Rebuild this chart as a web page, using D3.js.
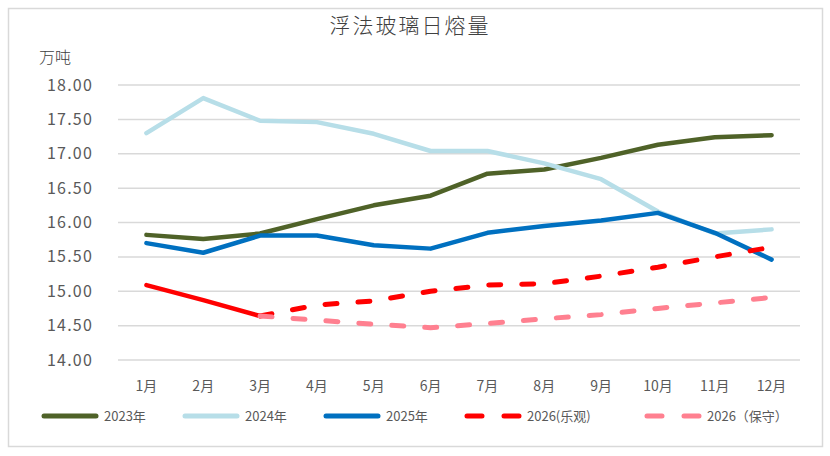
<!DOCTYPE html>
<html>
<head>
<meta charset="utf-8">
<script src="https://cdn.jsdelivr.net/npm/d3@7"></script>
<style>
  body { margin: 0; background: #fff; }
  text { font-family: "Noto Sans CJK SC", "Noto Sans", sans-serif; }
</style>
</head>
<body>
<svg id="chart"></svg>
<script>
// data
const months = ['1月','2月','3月','4月','5月','6月','7月','8月','9月','10月','11月','12月']
const y2023 = [15.82, 15.76, 15.84, 16.05, 16.25, 16.39, 16.71, 16.77, 16.94, 17.13, 17.24, 17.27]
const y2024 = [17.30, 17.81, 17.48, 17.46, 17.29, 17.04, 17.04, 16.86, 16.63, 16.16, 15.84, 15.90]
const y2025 = [15.70, 15.56, 15.81, 15.81, 15.67, 15.62, 15.85, 15.95, 16.03, 16.14, 15.85, 15.46]
const opt2026 = [15.09, 14.87, 14.64, 14.80, 14.86, 15.00, 15.09, 15.11, 15.22, 15.35, 15.50, 15.64]
const cons2026 = [null, null, 14.64, 14.58, 14.52, 14.47, 14.53, 14.60, 14.66, 14.75, 14.83, 14.91]
const yTicks = [14, 14.5, 15, 15.5, 16, 16.5, 17, 17.5, 18]
const legendNames = ['2023年', '2024年', '2025年', '2026(乐观)', '2026（保守）']

const W = 830, H = 456
const margin = {top: 85, right: 30, bottom: 96, left: 118}
const width = W - margin.left - margin.right
const height = H - margin.top - margin.bottom

const svg = d3.select('#chart').attr('width', W).attr('height', H)

// outer frame
svg.append('rect')
  .attr('x', 8.5).attr('y', 8.5).attr('width', 814).attr('height', 438)
  .attr('fill', '#fff').attr('stroke', '#d9d9d9').attr('stroke-width', 1.5)

svg.append('text')
  .attr('x', 410).attr('y', 33)
  .attr('text-anchor', 'middle')
  .style('font-size', '21px').style('letter-spacing', '2px')
  .style('font-weight', 300).style('fill', '#404040')
  .text('浮法玻璃日熔量')

svg.append('text')
  .attr('x', 39).attr('y', 63)
  .style('font-size', '16px').style('fill', '#404040').style('font-weight', 300)
  .text('万吨')

const g = svg.append('g').attr('transform', 'translate(' + margin.left + ',' + margin.top + ')')

const x = d3.scaleBand().domain(months).range([0, width])
const y = d3.scaleLinear().domain([14, 18]).range([height, 0])
const cx = d => x(d) + x.bandwidth() / 2

// grid
g.append('g')
  .selectAll('line')
  .data(yTicks)
  .enter().append('line')
  .attr('x1', 0).attr('x2', width)
  .attr('y1', d => y(d)).attr('y2', d => y(d))
  .attr('stroke', '#d9d9d9').attr('stroke-width', 1.5)

// y labels
g.append('g')
  .selectAll('text')
  .data(yTicks)
  .enter().append('text')
  .attr('x', -25).attr('y', d => y(d) + 5.5)
  .attr('text-anchor', 'end')
  .style('font-size', '16px').style('letter-spacing', '1.2px').style('fill', '#595959')
  .text(d => d3.format('.2f')(d))

// x labels
g.append('g')
  .selectAll('text')
  .data(months)
  .enter().append('text')
  .attr('x', d => cx(d)).attr('y', height + 31)
  .attr('text-anchor', 'middle')
  .style('font-size', '14px').style('fill', '#595959')
  .text(d => d)

const line = d3.line()
  .defined(d => d[1] != null)
  .x(d => cx(d[0]))
  .y(d => y(d[1]))

const pairs = arr => months.map((m, i) => [m, arr[i]])

const series = [
  {data: pairs(y2023), color: '#4f6228', w: 4.5, dash: null},
  {data: pairs(y2024), color: '#b7dee8', w: 4.5, dash: null},
  {data: pairs(y2025), color: '#0070c0', w: 4.5, dash: null},
  {data: pairs(opt2026).slice(0, 3), color: '#ff0000', w: 4.5, dash: null},
  {data: pairs(opt2026).slice(2), color: '#ff0000', w: 5, dash: '12 21'},
  {data: pairs(cons2026), color: '#ff8090', w: 5, dash: '12 21'}
]

series.forEach(s => {
  g.append('path')
    .datum(s.data)
    .attr('d', line)
    .attr('fill', 'none')
    .attr('stroke', s.color)
    .attr('stroke-width', s.w)
    .attr('stroke-linejoin', 'round')
    .attr('stroke-linecap', 'round')
    .attr('stroke-dasharray', s.dash)
})

// legend
const legend = [
  {x: 42, color: '#4f6228', dash: null},
  {x: 183, color: '#b7dee8', dash: null},
  {x: 324, color: '#0070c0', dash: null},
  {x: 465, color: '#ff0000', dash: '15 22'},
  {x: 645, color: '#ff8090', dash: '15 22'}
]
const lg = svg.append('g').attr('transform', 'translate(0,416)')
legend.forEach((l, i) => {
  lg.append('line')
    .attr('x1', l.x + 2).attr('x2', l.x + 54)
    .attr('y1', 0).attr('y2', 0)
    .attr('stroke', l.color).attr('stroke-width', 5)
    .attr('stroke-linecap', 'round')
    .attr('stroke-dasharray', l.dash)
  lg.append('text')
    .attr('x', l.x + 62).attr('y', 5)
    .style('font-size', '13px').style('fill', '#595959')
    .text(legendNames[i])
})
</script>
</body>
</html>
